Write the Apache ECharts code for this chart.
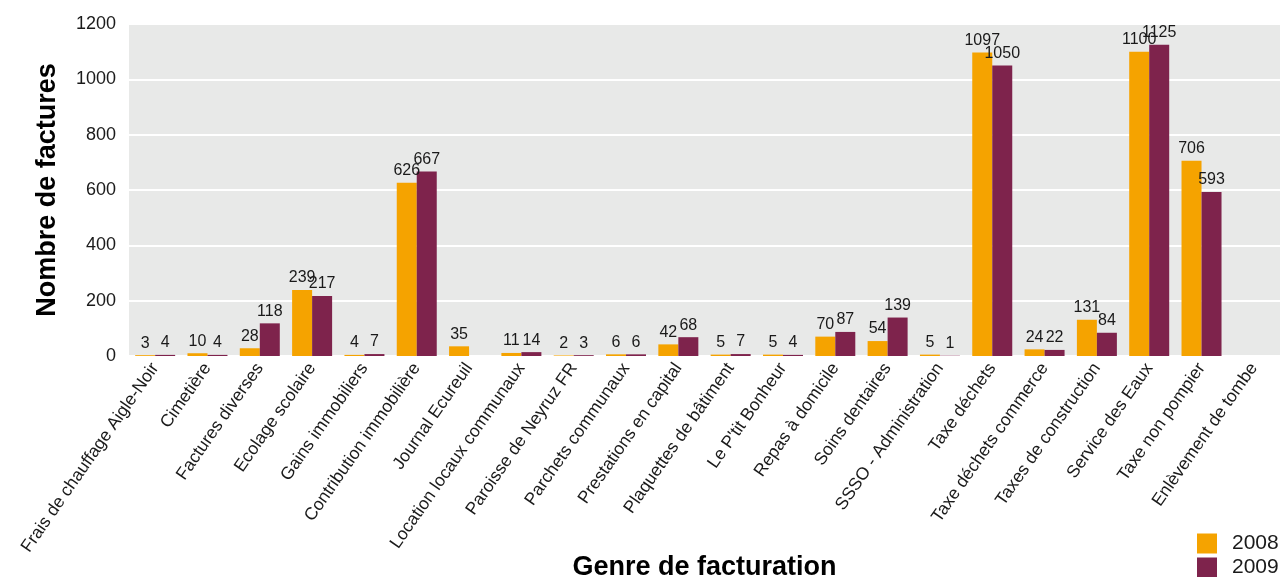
<!DOCTYPE html>
<html>
<head>
<meta charset="utf-8">
<script src="https://cdn.jsdelivr.net/npm/echarts@6/dist/echarts.min.js"></script>
<style>
  html, body { margin: 0; padding: 0; background: #fff; }
  #chart { width: 1280px; height: 577px; }
</style>
</head>
<body>
<div id="chart"></div>
<script>
// catégories (genre de facturation)
const categories = [
  'Frais de chauffage Aigle-Noir', 'Cimetière', 'Factures diverses', 'Ecolage scolaire',
  'Gains immobiliers', 'Contribution immobilière', 'Journal Ecureuil', 'Location locaux communaux',
  'Paroisse de Neyruz FR', 'Parchets communaux', 'Prestations en capital', 'Plaquettes de bâtiment',
  'Le P\'tit Bonheur', 'Repas à domicile', 'Soins dentaires', 'SSSO - Administration',
  'Taxe déchets', 'Taxe déchets commerce', 'Taxes de construction', 'Service des Eaux',
  'Taxe non pompier', 'Enlèvement de tombe'
];
// nombre de factures
const data2008 = [3, 10, 28, 239, 4, 626, 35, 11, 2, 6, 42, 5, 5, 70, 54, 5, 1097, 24, 131, 1100, 706, null];
const data2009 = [4, 4, 118, 217, 7, 667, null, 14, 3, 6, 68, 7, 4, 87, 139, 1, 1050, 22, 84, 1125, 593, null];
const yTicks = { min: 0, max: 1200, interval: 200 };

const colors = ['#F5A300', '#7E234C'];
const font = 'Liberation Sans, Arial, sans-serif';

const chart = echarts.init(document.getElementById('chart'));

const labelStyle = {
  show: true,
  position: 'top',
  distance: 4,
  color: '#1a1a1a',
  fontSize: 16,
  fontFamily: font,
};

// deux légendes séparées pour garder les 2 items l'un sous l'autre
const legendBase = {
  left: 1197,
  padding: 0,
  itemWidth: 20,
  itemHeight: 20,
  icon: 'rect',
  textStyle: { fontSize: 21, color: '#1a1a1a', fontFamily: font, padding: [0, 0, 0, 10] },
};

chart.setOption({
  animation: false,
  textStyle: { fontFamily: font },
  grid: {
    left: 129,
    right: 0,
    top: 24,
    bottom: 221,
    show: true,
    backgroundColor: '#E8E9E8',
    borderWidth: 0,
    containLabel: false,
    outerBoundsMode: 'none',
  },
  legend: [
    Object.assign({}, legendBase, { top: 533, data: ['2008'] }),
    Object.assign({}, legendBase, { top: 557, data: ['2009'] }),
  ],
  xAxis: {
    type: 'category',
    data: categories,
    name: 'Genre de facturation',
    nameLocation: 'middle',
    nameGap: 198,
    nameMoveOverlap: false,
    nameTextStyle: { fontSize: 27, fontWeight: 'bold', color: '#000', fontFamily: font },
    axisLine: { lineStyle: { color: '#ffffff', width: 2 } },
    axisTick: { show: true, length: 4, lineStyle: { color: '#ffffff', width: 2 } },
    axisLabel: {
      interval: 0,
      rotate: 55,
      margin: 9,
      fontSize: 17.5,
      color: '#1a1a1a',
      fontFamily: font,
    },
  },
  yAxis: {
    type: 'value',
    min: yTicks.min,
    max: yTicks.max,
    interval: yTicks.interval,
    name: 'Nombre de factures',
    nameLocation: 'middle',
    nameGap: 68,
    nameMoveOverlap: false,
    nameTextStyle: { fontSize: 27, fontWeight: 'bold', color: '#000', fontFamily: font },
    axisLine: { show: false },
    axisTick: { show: false },
    axisLabel: {
      fontSize: 18,
      color: '#1a1a1a',
      margin: 13,
      fontFamily: font,
      formatter: (v) => String(v),
    },
    splitLine: { lineStyle: { color: '#ffffff', width: 2 } },
  },
  series: [
    {
      name: '2008',
      type: 'bar',
      data: data2008,
      barWidth: 20,
      barGap: '0%',
      itemStyle: { color: colors[0] },
      label: labelStyle,
    },
    {
      name: '2009',
      type: 'bar',
      data: data2009,
      barWidth: 20,
      barGap: '0%',
      itemStyle: { color: colors[1] },
      label: labelStyle,
    },
  ],
});
</script>
</body>
</html>
